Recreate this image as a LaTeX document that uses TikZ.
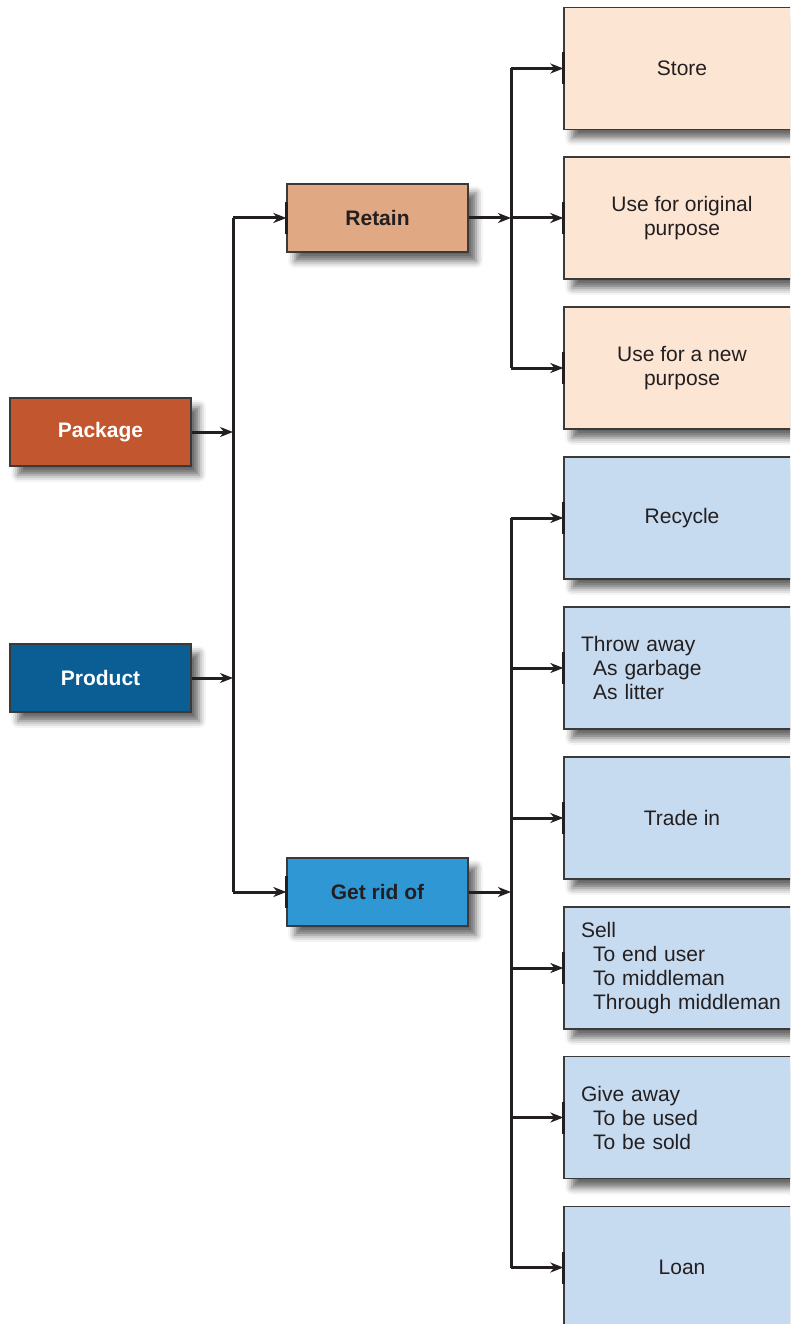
\documentclass[tikz,border=0pt]{standalone}
\usepackage{fontspec}
\setmainfont{Liberation Sans}
\usetikzlibrary{arrows.meta,shadows.blur}

\definecolor{pkgred}{HTML}{C1562F}
\definecolor{prodblue}{HTML}{0B5E93}
\definecolor{retaintan}{HTML}{E0A983}
\definecolor{ridblue}{HTML}{3097D5}
\definecolor{peach}{HTML}{FDE5D3}
\definecolor{paleblue}{HTML}{C6DAF0}
\definecolor{ink}{HTML}{231F20}
\definecolor{edge}{HTML}{3A3A3A}

\tikzset{
 box/.style={draw=edge, line width=1.3pt, inner sep=0pt,
 font=\fontsize{21}{24}\selectfont,
 blur shadow={shadow xshift=8pt, shadow yshift=-9pt, shadow blur radius=7pt, shadow opacity=60}},
 srcbox/.style={box, minimum width=181pt, minimum height=68pt, font=\fontsize{21}{24}\selectfont\bfseries},
 optbox/.style={box, minimum width=236pt, minimum height=122pt, align=center, text=ink},
 listbox/.style={optbox, text width=202pt, align=left},
 conn/.style={draw=ink, line width=3pt},
 arr/.style={conn, -{Stealth[length=13pt, width=10pt, inset=4pt]}},
 tick/.style={draw=ink, line width=3pt}
}

\begin{document}
\begin{tikzpicture}[x=1pt, y=-1pt]
 \useasboundingbox (0,0) rectangle (790,1324);
 \clip (0,0) rectangle (790,1324);

 % left column
 \node[srcbox, fill=pkgred, text=white] (package) at (100.5,432) {Package};
 \node[srcbox, fill=prodblue, text=white] (product) at (100.5,678) {Product};

 % middle column
 \node[srcbox, fill=retaintan, text=ink] (retain) at (377.5,218) {Retain};
 \node[srcbox, fill=ridblue, text=ink] (getrid) at (377.5,892) {Get rid of};

 % right column
 \node[optbox, fill=peach] (store) at (682,68.5) {Store};
 \node[optbox, fill=peach] (original) at (682,218) {Use for original\\purpose};
 \node[optbox, fill=peach] (newuse) at (682,368) {Use for a new\\purpose};
 \node[optbox, fill=paleblue] (recycle) at (682,518) {Recycle};
 \node[listbox, fill=paleblue] (throw) at (682,668) {Throw away\\\hspace*{12pt}As garbage\\\hspace*{12pt}As litter};
 \node[optbox, fill=paleblue] (trade) at (682,818) {Trade in};
 \node[listbox, fill=paleblue] (sell) at (682,968) {Sell\\\hspace*{12pt}To end user\\\hspace*{12pt}To middleman\\\hspace*{12pt}Through middleman};
 \node[listbox, fill=paleblue] (give) at (682,1117.5) {Give away\\\hspace*{12pt}To be used\\\hspace*{12pt}To be sold};
 \node[optbox, fill=paleblue] (loan) at (682,1267.5) {Loan};

 % junction points
 \coordinate (ltop) at (233,218);
 \coordinate (lbot) at (233,892);
 \coordinate (jpkg) at (233,432);
 \coordinate (jprod) at (233,678);
 \coordinate (jret) at (511,218);
 \coordinate (jrid) at (511,892);

 % left bus
 \draw[conn] (ltop) -- (lbot);
 \draw[arr] (package) -- (jpkg);
 \draw[arr] (product) -- (jprod);
 \draw[arr] (ltop) -- (retain);
 \draw[arr] (lbot) -- (getrid);

 % right buses
 \draw[conn] (511,68.5) -- (511,368);
 \draw[conn] (511,518) -- (511,1267.5);
 \draw[arr] (retain) -- (jret);
 \draw[arr] (getrid) -- (jrid);
 \foreach \nm in {store,original,newuse,recycle,throw,trade,sell,give,loan}
 \draw[arr] (\nm.west -| jret) -- (\nm.west);

 % ticks on the receiving edges
 \foreach \nm in {retain,getrid,store,original,newuse,recycle,throw,trade,sell,give,loan}
 \draw[tick] ([yshift=16pt]\nm.west) -- ([yshift=-16pt]\nm.west);
\end{tikzpicture}
\end{document}
